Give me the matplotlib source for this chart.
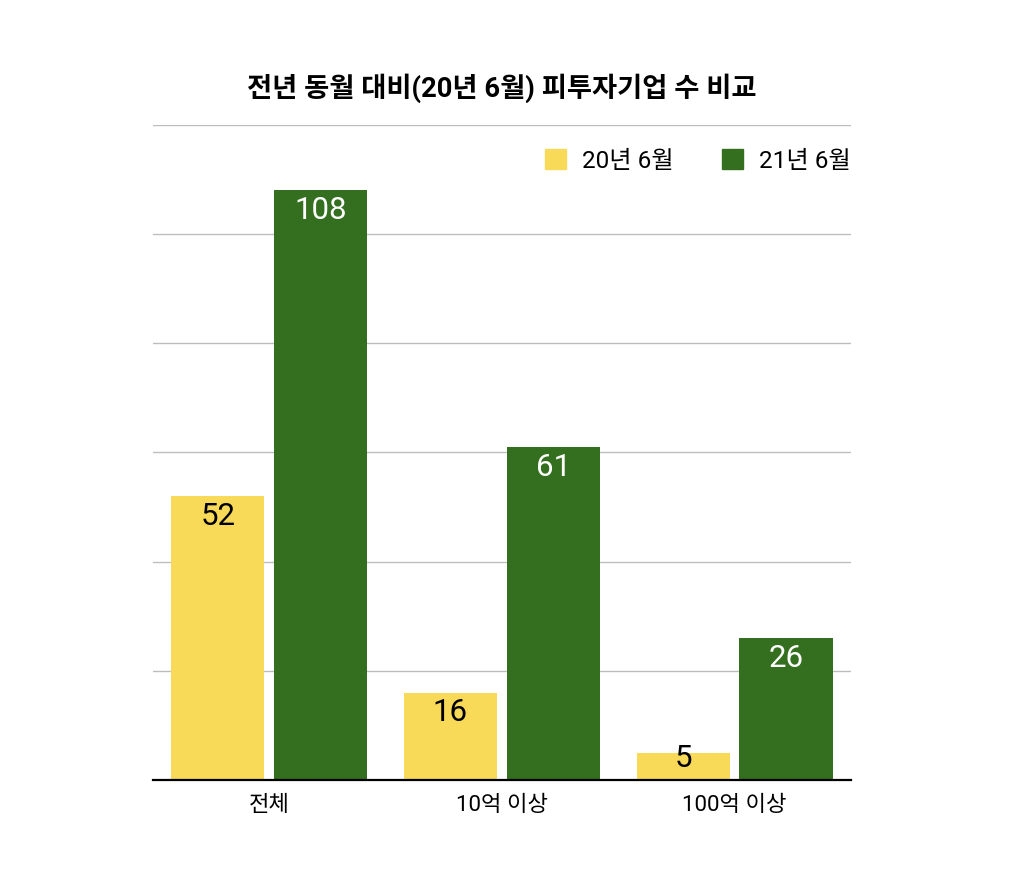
import matplotlib
matplotlib.use("Agg")
import matplotlib.pyplot as plt
from matplotlib.patches import Patch
import numpy as np

plt.rcParams['font.family'] = ['Roboto', 'Noto Sans CJK KR', 'DejaVu Sans']

categories = ['전체', '10억 이상', '100억 이상']
series_names = ['20년 6월', '21년 6월']
values_2020 = [52, 16, 5]
values_2021 = [108, 61, 26]
colors = ['#F8DA58', '#336F1F']
label_colors = ['black', 'white']

fig = plt.figure(figsize=(10.32, 8.96), dpi=100)
ax = fig.add_axes([0.148, 0.1295, 0.6766, 0.731])

x = np.arange(len(categories))
w = 0.4
off = 0.221
for vals, dx, c, tc in zip([values_2020, values_2021], [-off, off], colors, label_colors):
    bars = ax.bar(x + dx, vals, width=w, color=c, zorder=2)
    for b, v in zip(bars, vals):
        # label sits just inside the bar top, but never drops below the axis
        ax.text(b.get_x() + b.get_width() / 2, max(v - 3.7, 4.0), str(v),
                ha='center', va='center', fontsize=22.5, color=tc, zorder=3)

ax.set_xlim(-0.5, 2.5)
ax.set_ylim(0, 120)
ax.set_yticks(np.arange(0, 121, 20))
ax.yaxis.grid(True, color='#BDBDBD', linewidth=1)
ax.tick_params(axis='y', left=False, labelleft=False)
ax.tick_params(axis='x', length=0, labelsize=16, pad=11)
ax.set_xticks(x)
ax.set_xticklabels(categories)
for s in ['top', 'right', 'left']:
    ax.spines[s].set_visible(False)
ax.spines['bottom'].set_linewidth(1.6)
ax.spines['bottom'].set_zorder(4)

ax.set_title('전년 동월 대비(20년 6월) 피투자기업 수 비교', fontsize=19.7,
             fontweight='bold', pad=20)

handles = [Patch(color=c) for c in colors]
ax.legend(handles, series_names, loc='center right', bbox_to_anchor=(1.013, 0.945),
          ncol=2, frameon=False, fontsize=17.5, handlelength=0.85, handleheight=0.85,
          handletextpad=0.65, columnspacing=2.0, borderaxespad=0)

fig.savefig('out.png', dpi=100)
